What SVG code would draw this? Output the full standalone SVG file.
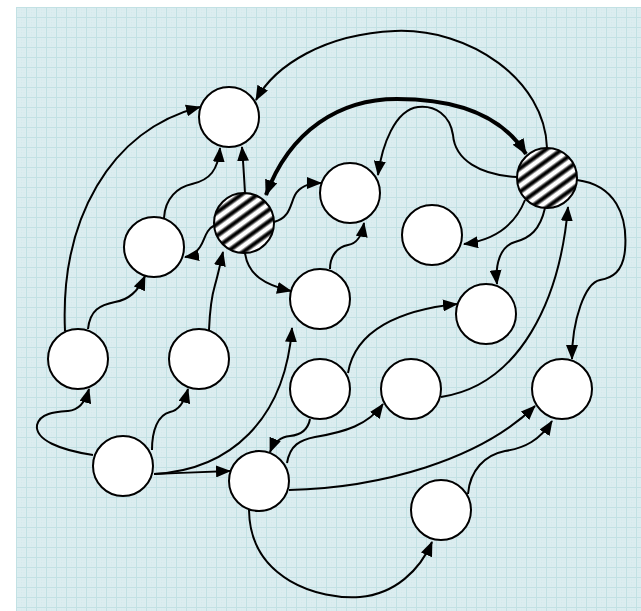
<svg xmlns="http://www.w3.org/2000/svg" width="641" height="611" viewBox="0 0 641 611">
<style>
.node{fill:#fff;stroke:#000;stroke-width:2}
.hatched{fill:url(#hatch);stroke:#000;stroke-width:2}
.edge{fill:none;stroke:#000;stroke-width:2;marker-end:url(#arr)}
.thick{fill:none;stroke:#000;stroke-width:4;marker-end:url(#arrT);marker-start:url(#arrT)}
</style>
<defs>
<pattern id="minor" patternUnits="userSpaceOnUse" x="16" y="7" width="2.5" height="2.5">
<rect width="2.5" height="2.5" fill="#dcedf0"/>
<rect width="1" height="1" fill="#d2e8eb"/>
</pattern>
<pattern id="grid" patternUnits="userSpaceOnUse" x="16" y="7" width="10" height="10">
<path d="M0.5,0 V10 M0,0.5 H10" stroke="#c2e1e4" stroke-width="1" fill="none"/>
</pattern>
<linearGradient id="sg" x1="0" y1="0" x2="0" y2="1">
<stop offset="0" stop-color="#fff"/>
<stop offset="0.15" stop-color="#fff"/>
<stop offset="0.4" stop-color="#000"/>
<stop offset="0.6" stop-color="#000"/>
<stop offset="0.85" stop-color="#fff"/>
<stop offset="1" stop-color="#fff"/>
</linearGradient>
<pattern id="hatch" patternUnits="userSpaceOnUse" width="9.5" height="9.5" patternTransform="rotate(-36)">
<rect width="9.5" height="9.5" fill="url(#sg)"/>
</pattern>
<marker id="arr" viewBox="0 0 15 12" refX="14" refY="6" markerWidth="15" markerHeight="12" markerUnits="userSpaceOnUse" orient="auto-start-reverse">
<path d="M0,0 L15,6 L0,12 z" fill="#000"/>
</marker>
<marker id="arrT" viewBox="0 0 15 12" refX="14" refY="6" markerWidth="16" markerHeight="13" markerUnits="userSpaceOnUse" orient="auto-start-reverse">
<path d="M0,0 L15,6 L0,12 z" fill="#000"/>
</marker>
</defs>
<rect x="0" y="0" width="641" height="611" fill="#fff"/>
<rect x="16" y="7" width="625" height="604" fill="url(#minor)"/>
<rect x="16" y="7" width="625" height="604" fill="url(#grid)"/>
<g id="connectors">
<path class="edge" d="M547,148 C545,80 470,28 395,31 C325,34 275,65 256,100"/>
<path class="thick" d="M266,195 C290,130 340,99 397,99 C450,99 500,112 526,154"/>
<path class="edge" d="M517,177 C480,175 455,160 453,135 C450,115 435,105 418,107 C395,110 382,145 378,175"/>
<path class="edge" d="M525,200 C515,225 495,240 464,244"/>
<path class="edge" d="M545,208 C540,230 530,238 515,242 C500,246 495,265 497,284"/>
<path class="edge" d="M577,180 C615,185 628,215 625,250 C623,272 612,278 600,280 C585,283 572,320 572,359"/>
<path class="edge" d="M441,397 C520,385 560,300 568,207"/>
<path class="edge" d="M330,269 C330,255 338,247 348,245 C358,243 362,235 364,223"/>
<path class="edge" d="M274,222 C290,218 290,205 295,195 C300,186 310,183 321,183"/>
<path class="edge" d="M245,193 C244,175 243,160 242,147"/>
<path class="edge" d="M164,218 C165,198 178,187 192,184 C210,180 218,170 220,148"/>
<path class="edge" d="M215,225 C205,230 205,240 200,247 C196,253 192,256 185,257"/>
<path class="edge" d="M65,331 C60,220 110,130 200,107"/>
<path class="edge" d="M88,329 C90,310 100,305 115,302 C128,300 138,292 145,276"/>
<path class="edge" d="M209,330 C210,305 212,295 215,285 C218,275 220,265 223,252"/>
<path class="edge" d="M245,253 C248,275 265,285 291,291"/>
<path class="edge" d="M93,455 C60,450 35,440 37,425 C40,413 55,412 68,411 C80,410 86,400 89,389"/>
<path class="edge" d="M152,450 C152,430 158,415 170,412 C180,410 185,400 188,389"/>
<path class="edge" d="M154,474 C180,473 200,472 230,471"/>
<path class="edge" d="M154,474 C230,470 285,420 292,328"/>
<path class="edge" d="M310,419 C308,430 300,435 290,436 C280,437 274,442 270,452"/>
<path class="edge" d="M287,463 C290,445 300,440 315,437 C345,432 368,425 383,404"/>
<path class="edge" d="M348,373 C355,330 400,310 457,304"/>
<path class="edge" d="M289,490 C380,488 480,460 535,406"/>
<path class="edge" d="M468,494 C470,470 485,455 505,451 C525,448 540,440 552,421"/>
<path class="edge" d="M249,510 C250,580 320,600 360,597 C395,594 420,570 432,542"/>
</g>
<g id="nA"><circle class="node" cx="229" cy="117" r="30"/></g>
<g id="nH1"><circle class="hatched" cx="244" cy="223" r="30"/></g>
<g id="nB"><circle class="node" cx="154" cy="247" r="30"/></g>
<g id="nC"><circle class="node" cx="350" cy="193" r="30"/></g>
<g id="nD"><circle class="node" cx="432" cy="235" r="30"/></g>
<g id="nH2"><circle class="hatched" cx="547" cy="178" r="30"/></g>
<g id="nE"><circle class="node" cx="320" cy="299" r="30"/></g>
<g id="nF"><circle class="node" cx="486" cy="314" r="30"/></g>
<g id="nG"><circle class="node" cx="78" cy="359" r="30"/></g>
<g id="nHn"><circle class="node" cx="199" cy="359" r="30"/></g>
<g id="nI"><circle class="node" cx="320" cy="389" r="30"/></g>
<g id="nJ"><circle class="node" cx="411" cy="389" r="30"/></g>
<g id="nK"><circle class="node" cx="562" cy="389" r="30"/></g>
<g id="nL"><circle class="node" cx="123" cy="466" r="30"/></g>
<g id="nM"><circle class="node" cx="259" cy="481" r="30"/></g>
<g id="nN"><circle class="node" cx="441" cy="510" r="30"/></g>
</svg>
